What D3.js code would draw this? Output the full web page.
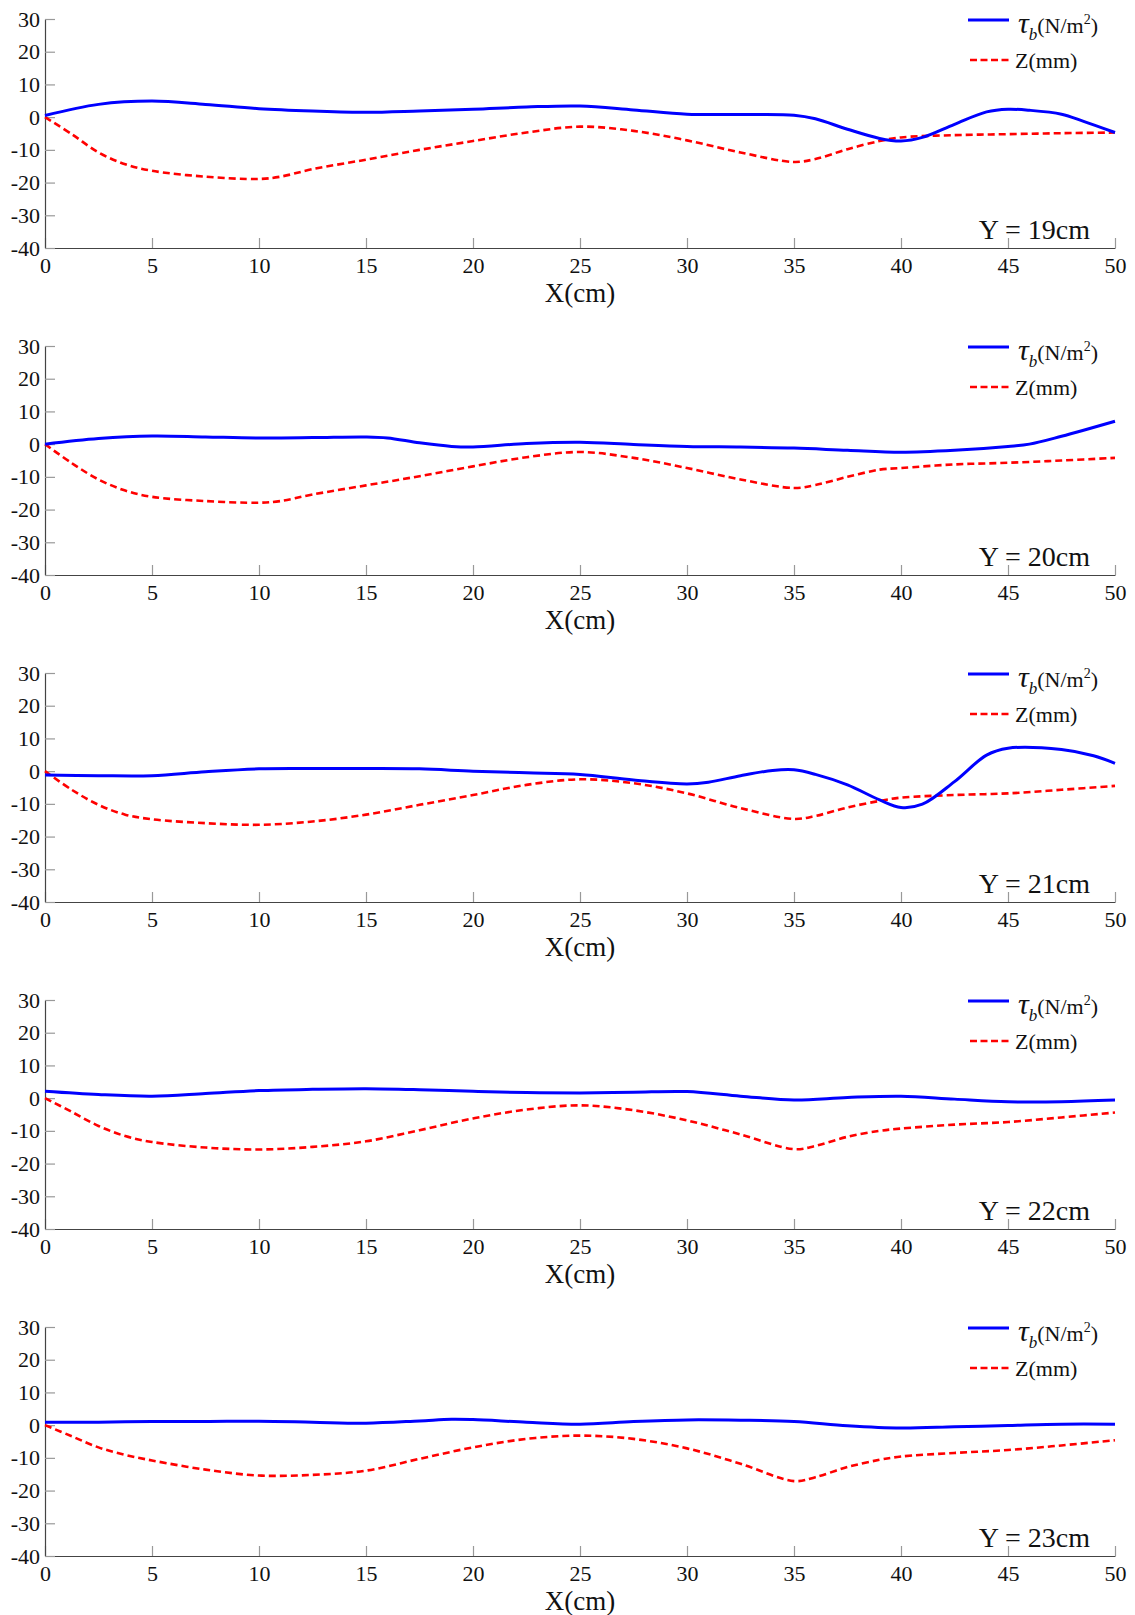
<!DOCTYPE html>
<html lang="en">

<head>
  <meta charset="UTF-8">
  <title>Bed shear stress and scour depth</title>
  <script src="https://d3js.org/d3.v7.min.js"></script>
  <style>
    body { margin: 0; background: #fff; }
    text { font-family: "Liberation Serif", "Times New Roman", serif; fill: #111; }
  </style>
</head>

<body>
  <script>
    // section labels (Y position of each profile)
    let sections = ['Y = 19cm', 'Y = 20cm', 'Y = 21cm', 'Y = 22cm', 'Y = 23cm']

    let xTicks = [0, 5, 10, 15, 20, 25, 30, 35, 40, 45, 50]
    let yTicks = [-40, -30, -20, -10, 0, 10, 20, 30]

    // tau_b (N/m2), [x(cm), value]
    let tau19 = [[0, 0.5], [2.5, 3.9], [5, 4.9], [7.5, 3.9], [10, 2.6], [12.5, 1.9], [15, 1.5], [17.5, 1.9],
      [20, 2.4], [22.5, 3.1], [25, 3.4], [27.5, 2.2], [30, 0.9], [32.5, 0.8], [35, 0.6], [36, -0.5],
      [37.5, -3.7], [39, -6.5], [40, -7.3], [41, -6.2], [42.5, -2.2], [44, 1.6], [45, 2.4], [46, 2.1],
      [47.5, 0.9], [48.5, -1.2], [50, -4.7]]
    let tau20 = [[0, 0], [2.5, 1.7], [5, 2.5], [7.5, 2.2], [10, 1.9], [12.5, 2.0], [15, 2.2], [16, 1.9],
      [17.5, 0.4], [19, -0.7], [20, -0.9], [22.5, 0.2], [25, 0.6], [27.5, -0.1], [30, -0.7], [32.5, -0.9],
      [35, -1.2], [37.5, -1.9], [40, -2.5], [42.5, -1.9], [45, -0.7], [46, 0], [47.5, 2.4], [50, 7.0]]
    let tau21 = [[0, -1.2], [2.5, -1.4], [5, -1.4], [7.5, -0.2], [10, 0.7], [12.5, 0.8], [15, 0.8], [17.5, 0.7],
      [20, 0], [22.5, -0.5], [25, -1.0], [27.5, -2.7], [30, -3.9], [31, -3.4], [32.5, -1.4], [34, 0.2],
      [35, 0.4], [36, -1.0], [37.5, -4.2], [39, -8.8], [40, -11.1], [41, -10.1], [42.5, -3.2], [44, 4.9],
      [45, 7.0], [47.5, 6.6], [49, 4.7], [50, 2.4]]
    let tau22 = [[0, 2.1], [2.5, 1.1], [5, 0.6], [7.5, 1.4], [10, 2.3], [12.5, 2.7], [15, 2.9], [17.5, 2.6],
      [20, 2.1], [22.5, 1.7], [25, 1.6], [27.5, 1.8], [30, 2.0], [32.5, 0.6], [35, -0.6], [37.5, 0.2],
      [40, 0.6], [42.5, -0.3], [45, -1.1], [47.5, -1.1], [50, -0.6]]
    let tau23 = [[0, 0.9], [2.5, 0.9], [5, 1.1], [7.5, 1.1], [10, 1.2], [12.5, 0.9], [15, 0.6], [17.5, 1.3],
      [19, 1.8], [20, 1.7], [22.5, 0.9], [25, 0.3], [27.5, 1.1], [30, 1.6], [32.5, 1.5], [35, 1.1],
      [37.5, -0.2], [40, -0.9], [42.5, -0.5], [45, -0.1], [47.5, 0.3], [50, 0.3]]

    // Z (mm), [x(cm), value]
    let z19 = [[0, 0], [1.25, -5.2], [2.5, -10.8], [3.75, -14.4], [5, -16.4], [7.5, -18.2], [10, -18.9],
      [11, -18.2], [12.5, -15.9], [15, -13.0], [17.5, -10.0], [20, -7.3], [22.5, -4.7], [25, -2.9],
      [27.5, -4.2], [30, -7.1], [32.5, -10.8], [35, -13.7], [36, -12.8], [37.5, -9.8], [39, -7.3],
      [40, -6.2], [42.5, -5.5], [45, -5.2], [47.5, -4.9], [50, -4.7]]
    let z20 = [[0, 0], [1.25, -5.8], [2.5, -10.8], [3.75, -14.2], [5, -16.1], [7.5, -17.4], [10, -17.9],
      [11, -17.4], [12.5, -15.4], [15, -12.6], [17.5, -9.8], [20, -6.8], [22.5, -4.0], [25, -2.4],
      [27.5, -4.2], [30, -7.3], [32.5, -10.8], [35, -13.4], [36, -12.5], [37.5, -10.0], [39, -7.8],
      [40, -7.3], [42.5, -6.2], [45, -5.7], [47.5, -5.0], [50, -4.2]]
    let z21 = [[0, 0], [1.25, -5.7], [2.5, -10.3], [3.75, -13.3], [5, -14.7], [7.5, -15.9], [10, -16.4],
      [12.5, -15.4], [15, -13.3], [17.5, -10.3], [20, -7.3], [22.5, -4.2], [25, -2.5], [27.5, -3.7],
      [30, -6.8], [32.5, -11.3], [35, -14.6], [36, -13.7], [37.5, -11.1], [39, -9.1], [40, -8.1],
      [42.5, -7.3], [45, -6.8], [47.5, -5.7], [50, -4.5]]
    let z22 = [[0, 0], [1.25, -4.2], [2.5, -8.5], [3.75, -11.6], [5, -13.4], [7.5, -15.1], [10, -15.7],
      [12.5, -14.9], [15, -13.2], [17.5, -9.8], [20, -6.2], [22.5, -3.5], [25, -2.2], [27.5, -3.7],
      [30, -6.8], [32.5, -11.1], [35, -15.6], [36, -14.6], [37.5, -11.8], [39, -10.0], [40, -9.3],
      [42.5, -8.1], [45, -7.3], [47.5, -5.9], [50, -4.4]]
    let z23 = [[0, 0], [1.25, -3.4], [2.5, -6.8], [3.75, -9.1], [5, -10.8], [7.5, -13.6], [10, -15.4],
      [12.5, -15.2], [15, -13.9], [17.5, -10.3], [20, -6.8], [22.5, -4.2], [25, -3.2], [27.5, -4.2],
      [30, -7.1], [32.5, -11.8], [35, -17.1], [36, -15.9], [37.5, -12.8], [39, -10.6], [40, -9.6],
      [42.5, -8.5], [45, -7.6], [47.5, -6.2], [50, -4.6]]

    let tauSeries = [tau19, tau20, tau21, tau22, tau23]
    let zSeries = [z19, z20, z21, z22, z23]

    let width = 1135, height = 1615
    let left = 45, plotW = 1070, plotH = 229
    let firstTop = 19, step = 327

    let svg = d3.select('body')
      .append('svg')
      .attr('width', width)
      .attr('height', height)

    let x = d3.scaleLinear().domain([0, 50]).range([0, plotW])
    let y = d3.scaleLinear().domain([-40, 30]).range([plotH, 0])

    let line = d3.line()
      .x(function (d) { return x(d[0]) })
      .y(function (d) { return y(d[1]) })
      .curve(d3.curveCatmullRom.alpha(0.5))

    sections.forEach(function (label, i) {
      let g = svg.append('g')
        .attr('transform', 'translate(' + left + ',' + (firstTop + i * step) + ')')

      // axes, ticks pointing inward, no box
      let xAxis = g.append('g')
        .attr('transform', 'translate(0,' + plotH + ')')
        .call(d3.axisBottom(x).tickValues(xTicks).tickSizeInner(-10).tickSizeOuter(0)
          .tickPadding(9).tickFormat(function (d) { return String(d) }))
      let yAxis = g.append('g')
        .call(d3.axisLeft(y).tickValues(yTicks).tickSizeInner(-10).tickSizeOuter(0)
          .tickPadding(5).tickFormat(function (d) { return String(d) }))

      ;[xAxis, yAxis].forEach(function (a) {
        a.attr('font-family', 'Liberation Serif').attr('font-size', 22)
        a.select('.domain').attr('stroke', '#444').attr('stroke-width', 1.2)
        a.selectAll('.tick line').attr('stroke', '#999').attr('stroke-width', 1.2)
        a.selectAll('.tick text').attr('fill', '#111')
      })

      // data lines
      g.append('path')
        .datum(zSeries[i])
        .attr('d', line)
        .attr('fill', 'none')
        .attr('stroke', '#ff0000')
        .attr('stroke-width', 2.6)
        .attr('stroke-dasharray', '7,4')

      g.append('path')
        .datum(tauSeries[i])
        .attr('d', line)
        .attr('fill', 'none')
        .attr('stroke', '#0000ff')
        .attr('stroke-width', 3)

      // legend
      g.append('line')
        .attr('x1', 923).attr('x2', 964)
        .attr('y1', 1).attr('y2', 1)
        .attr('stroke', '#0000ff').attr('stroke-width', 3)
      let t = g.append('text')
        .attr('x', 973).attr('y', 14)
      t.append('tspan').text('τ').style('font-style', 'italic').style('font-size', '30px')
      t.append('tspan').text('b').style('font-style', 'italic').style('font-size', '17px').attr('dy', 7)
      t.append('tspan').text('(N/m').style('font-size', '22px').attr('dy', -7)
      t.append('tspan').text('2').style('font-size', '14px').attr('dy', -9)
      t.append('tspan').text(')').style('font-size', '22px').attr('dy', 9)

      g.append('line')
        .attr('x1', 925).attr('x2', 964)
        .attr('y1', 41).attr('y2', 41)
        .attr('stroke', '#ff0000').attr('stroke-width', 2.6)
        .attr('stroke-dasharray', '7,3.5')
      g.append('text')
        .attr('x', 970).attr('y', 49)
        .style('font-size', '22px')
        .text('Z(mm)')

      // section label and x title
      g.append('text')
        .attr('x', 1045).attr('y', 220)
        .attr('text-anchor', 'end')
        .style('font-size', '28px')
        .text(label)

      g.append('text')
        .attr('x', plotW / 2).attr('y', 283)
        .attr('text-anchor', 'middle')
        .style('font-size', '27px')
        .text('X(cm)')
    })
  </script>
</body>

</html>
